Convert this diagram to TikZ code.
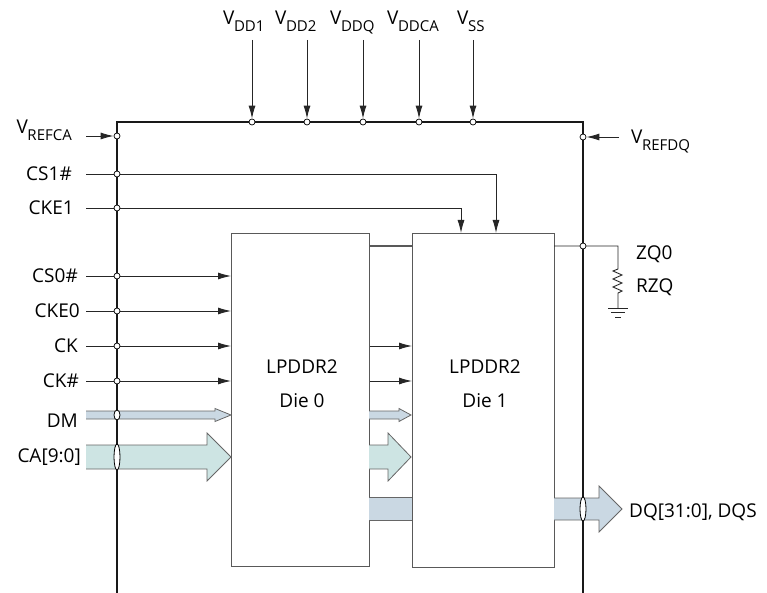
\documentclass[tikz,border=0pt]{standalone}
\usepackage{fontspec}
\setmainfont{Open Sans}
\usetikzlibrary{arrows.meta,calc}
\newcommand\vsubx[1]{V\kern-0.5pt\raisebox{-6.5pt}{\fontsize{15}{16}\selectfont #1}}
\begin{document}
\begin{tikzpicture}[x=1pt,y=-1pt,
  lbl/.style={font=\fontsize{19}{21}\selectfont, inner sep=0pt},
  pin/.style={circle, draw=black, fill=white, inner sep=0pt, minimum size=6pt, line width=0.7pt},
  sig/.style={line width=0.9pt, draw=black!85},
  sigarr/.style={sig, -{Latex[length=13pt,width=7pt]}},
  frameline/.style={line width=1.6pt, draw=black!90},
  die/.style={draw=black!65, line width=1.3pt, fill=white, inner sep=0pt},
  busdm/.style={fill=busblue, draw=black!60, line width=0.8pt},
  busca/.style={fill=busteal, draw=black!60, line width=0.8pt},
  crossing/.style={fill=white, draw=black, line width=0.8pt},
]
\definecolor{busblue}{HTML}{CAD8E3}
\definecolor{busteal}{HTML}{CDE4E3}
\useasboundingbox (0,0) rectangle (767,593);

% frame corners
\coordinate (TL) at (117,122);
\coordinate (TR) at (583,122);
\coordinate (BL) at (117,593);
\coordinate (BR) at (583,593);

% dies
\node[die, minimum width=138pt, minimum height=333pt, anchor=north west] (d0) at (231,233) {};
\node[die, minimum width=142pt, minimum height=334pt, anchor=north west] (d1) at (412,233) {};
\node[lbl, anchor=base] (d0a) at (302,373) {LPDDR2};
\node[lbl, anchor=base] (d0b) at (302,407) {Die 0};
\node[lbl, anchor=base] (d1a) at (485,373) {LPDDR2};
\node[lbl, anchor=base] (d1b) at (485,407) {Die 1};

% buses (drawn before frame)
\filldraw[busdm] (86,411) -- (215,411) -- (215,408.5) -- (231,415) -- (215,421.5) -- (215,419) -- (86,419);
\filldraw[busdm] (369,411) -- (399,411) -- (399,408.5) -- (411,415) -- (399,421.5) -- (399,419) -- (369,419);
\filldraw[busca] (86,445) -- (207,445) -- (207,433) -- (231,457) -- (207,481) -- (207,469) -- (86,469);
\filldraw[busca] (369,445) -- (388,445) -- (388,433) -- (411,457) -- (388,481) -- (388,469) -- (369,469);
\fill[busblue] (369,497) rectangle (412,520);
\draw[draw=black!60, line width=0.8pt] (369,497) -- (412,497) (369,520) -- (412,520);
\filldraw[busdm] (554,498) -- (599,498) -- (599,486) -- (622,509) -- (599,532) -- (599,520) -- (554,520);

% frame
\draw[frameline] (BL) -- (TL) -- (TR) -- (BR);

% top supply pins
\foreach \n/\x in {a/252, b/307, c/363, d/419, e/473}{
  \node[pin] (p\n) at (\x,122) {};
  \coordinate (s\n) at (\x,40);
  \draw[sigarr] (s\n) -- (p\n);
}
\node[lbl, anchor=base west] (la) at (223,25) {\vsubx{DD1}};
\node[lbl, anchor=base west] (lb) at (275,25) {\vsubx{DD2}};
\node[lbl, anchor=base west] (lc) at (330,25) {\vsubx{DDQ}};
\node[lbl, anchor=base west] (ld) at (387,25) {\vsubx{DDCA}};
\node[lbl, anchor=base west] (le) at (457,25) {\vsubx{SS}};

% VREFCA
\node[pin] (pvca) at (117,136) {};
\coordinate (svca) at (86,136);
\draw[sigarr] (svca) -- (pvca);
\node[lbl, anchor=base east] (lvca) at (72,134) {\vsubx{REFCA}};

% VREFDQ
\node[pin] (pvdq) at (583,137) {};
\coordinate (svdq) at (619,137);
\draw[sigarr] (svdq) -- (pvdq);
\node[lbl, anchor=base west] (lvdq) at (631,144) {\vsubx{REFDQ}};

% CS1# and CKE1
\coordinate (scs1) at (86,174);
\coordinate (scke1) at (86,208);
\coordinate (kcs1) at (496,174);
\coordinate (kcke1) at (461,208);
\draw[sigarr] (scs1) -- (kcs1) -- (kcs1 |- d1.north);
\draw[sigarr] (scke1) -- (kcke1) -- (kcke1 |- d1.north);
\node[pin] (pcs1) at (117,174) {};
\node[pin] (pcke1) at (117,208) {};
\node[lbl, anchor=base east] (lcs1) at (72,180.5) {CS1\#};
\node[lbl, anchor=base east] (lcke1) at (74,214.5) {CKE1};

% die 0 inputs
\foreach \n/\y/\ex/\t in {cs0/276/78/CS0\#, cke0/311/80/CKE0, ck/346/78/CK, ckn/381/79/CK\#}{
  \coordinate (s\n) at (86,\y);
  \draw[sigarr] (s\n) -- (s\n -| d0.west);
  \node[pin] (p\n) at (117,\y) {};
  \node[lbl, anchor=base east] (l\n) at (\ex,\y+6.5) {\t};
}
% die 0 -> die 1 clocks
\draw[sigarr] (sck -| d0.east) -- (sck -| d1.west);
\draw[sigarr] (sckn -| d0.east) -- (sckn -| d1.west);

\node[lbl, anchor=base east] (ldm) at (78,427) {DM};
\node[lbl, anchor=base east] (lca) at (81,462) {CA[9:0]};

% crossings
\draw[crossing] (117,415) ellipse [x radius=3pt, y radius=5pt];
\draw[crossing] (117,457) ellipse [x radius=3pt, y radius=13pt];
\draw[crossing] (583,509) ellipse [x radius=3pt, y radius=12pt];
\node[lbl, anchor=base west] (ldq) at (629,517) {DQ[31:0], DQS};

% ZQ connection
\coordinate (zqa) at (369,246);
\coordinate (zqb) at (412,246);
\coordinate (zqc) at (554,246);
\coordinate (zqr) at (618,246);
\draw[sig, draw=black!65, line width=1.1pt] (zqa) -- (zqb);
\draw[sig] (zqc) -- (zqr) -- (618,269) -- (613,271) -- (622,275) -- (613,279) -- (622,283) -- (613,287) -- (622,291) -- (618,293) -- (618,308);
\draw[sig] (608,308) -- (628,308) (611,312.5) -- (625,312.5) (615,317) -- (621,317);
\node[pin] (pzq) at (583,246) {};
\node[lbl, anchor=base west] (lzq) at (636,260) {ZQ0};
\node[lbl, anchor=base west] (lrzq) at (636,292) {RZQ};
\end{tikzpicture}
\end{document}
